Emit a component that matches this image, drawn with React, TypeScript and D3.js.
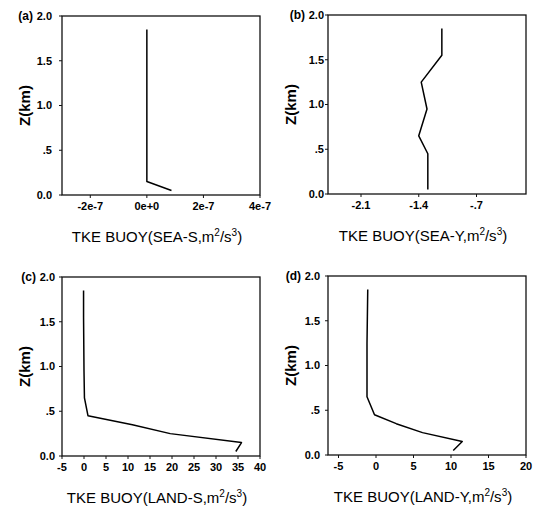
import React from 'react';
import * as d3 from 'd3';

// model levels (km) and buoyancy production profiles
const levels = [0.05, 0.15, 0.25, 0.35, 0.45, 0.65, 0.95, 1.25, 1.55, 1.85];
const seaS = [0.87e-7, 0, 0, 0, 0, 0, 0, 0, 0, 0];
const seaY = [-1.29, -1.29, -1.29, -1.29, -1.29, -1.4, -1.3, -1.37, -1.12, -1.12];
const landS = [34.5, 35.8, 19.6, 11.0, 0.9, 0.1, 0.0, -0.05, -0.1, -0.1];
const landY = [10.3, 11.5, 6.2, 2.7, -0.2, -1.2, -1.2, -1.2, -1.15, -1.1];

const yTicks = [0, 0.5, 1.0, 1.5, 2.0];
const yTickLabels = ['0.0', '.5', '1.0', '1.5', '2.0'];

const panels = [
  {
    tag: '(a)', values: seaS, domain: [-3e-7, 4e-7],
    xTicks: [-2e-7, 0, 2e-7, 4e-7], xLabels: ['-2e-7', '0e+0', '2e-7', '4e-7'],
    title: 'SEA-S', left: 62, top: 16, labelGap: 10,
  },
  {
    tag: '(b)', values: seaY, domain: [-2.5, -0.1],
    xTicks: [-2.1, -1.4, -0.7], xLabels: ['-2.1', '-1.4', '-.7'],
    title: 'SEA-Y', left: 328, top: 15, labelGap: 4,
  },
  {
    tag: '(c)', values: landS, domain: [-5, 40],
    xTicks: [-5, 0, 5, 10, 15, 20, 25, 30, 35, 40],
    xLabels: ['-5', '0', '5', '10', '15', '20', '25', '30', '35', '40'],
    title: 'LAND-S', left: 62, top: 277, labelGap: 7,
  },
  {
    tag: '(d)', values: landY, domain: [-6.4, 20],
    xTicks: [-5, 0, 5, 10, 15, 20], xLabels: ['-5', '0', '5', '10', '15', '20'],
    title: 'LAND-Y', left: 328, top: 276, labelGap: 8,
  },
];

const W = 198;
const H = 179;
const FONT = '"Liberation Sans", Arial, sans-serif';

const Panel = ({ p }: { p: any }) => {
  const x = d3.scaleLinear().domain(p.domain).range([0, W]);
  const y = d3.scaleLinear().domain([0, 2]).range([H, 0]);
  const line = d3.line<number>()
    .x((d) => x(d))
    .y((_, i) => y(levels[i]));

  return (
    <g transform={`translate(${p.left},${p.top})`}>
      <rect x={0} y={0} width={W} height={H} fill="none" stroke="#111" strokeWidth={1.3} />
      <path d={line(p.values) || ''} fill="none" stroke="#000" strokeWidth={1.5} strokeLinejoin="round" />

      {yTicks.map((t, i) => (
        <g key={`y${i}`}>
          <line x1={-3} x2={0} y1={y(t)} y2={y(t)} stroke="#111" strokeWidth={1} />
          <text x={-p.labelGap} y={y(t)} dy="0.35em" textAnchor="end"
            fontFamily={FONT} fontWeight="bold" fontSize={11}>{yTickLabels[i]}</text>
        </g>
      ))}

      {p.xTicks.map((t: number, i: number) => (
        <g key={`x${i}`}>
          <line x1={x(t)} x2={x(t)} y1={H} y2={H + 3} stroke="#111" strokeWidth={1} />
          <text x={x(t)} y={H + 15} textAnchor="middle"
            fontFamily={FONT} fontWeight="bold" fontSize={11}>{p.xLabels[i]}</text>
        </g>
      ))}

      <text x={-(p.labelGap + 19)} y={y(2)} dy="0.35em" textAnchor="end"
        fontFamily={FONT} fontWeight="bold" fontSize={12}>{p.tag}</text>

      <text transform={`translate(${-32},${H / 2}) rotate(-90)`} textAnchor="middle"
        fontFamily={FONT} fontWeight="bold" fontSize={15}>Z(km)</text>

      <text x={W / 2 - 4} y={H + 47} textAnchor="middle" fontFamily={FONT} fontSize={15}>
        {`TKE BUOY(${p.title},m`}
        <tspan fontSize={10} dy={-6}>2</tspan>
        <tspan dy={6}>/s</tspan>
        <tspan fontSize={10} dy={-6}>3</tspan>
        <tspan dy={6}>)</tspan>
      </text>
    </g>
  );
};

export default function App() {
  return (
    <svg width={539} height={507} style={{ position: 'absolute', left: 0, top: 0, background: '#fff' }}>
      <rect width={539} height={507} fill="#fff" />
      {panels.map((p) => <Panel key={p.tag} p={p} />)}
    </svg>
  );
}
